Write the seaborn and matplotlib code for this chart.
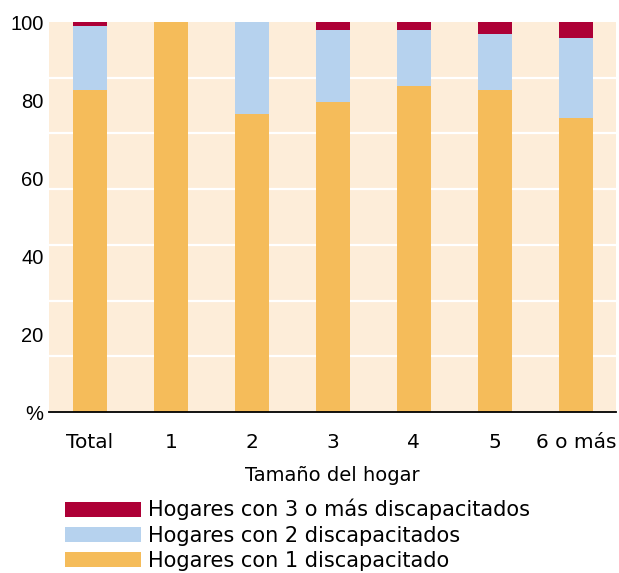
import numpy as np
import pandas as pd
import matplotlib
matplotlib.use("Agg")
import matplotlib.pyplot as plt
import matplotlib.patches as mpatches
from matplotlib.ticker import FixedLocator
import seaborn as sns

# Daten (in %)
categorias = ["Total", "1", "2", "3", "4", "5", "6 o más"]
con_1 = [82.6, 100.0, 76.4, 79.5, 83.6, 82.6, 75.4]
con_2 = [16.4, 0.0, 23.6, 18.4, 14.3, 14.3, 20.5]
con_3_mas = [1.0, 0.0, 0.0, 2.1, 2.1, 3.1, 4.1]
yticks = [0, 20, 40, 60, 80, 100]
ytick_labels = ["%", "20", "40", "60", "80", "100"]

leyenda = ["Hogares con 3 o más discapacitados",
           "Hogares con 2 discapacitados",
           "Hogares con 1 discapacitado"]

c_rojo = "#AD0036"
c_azul = "#B6D2EE"
c_naranja = "#F5BC5A"
c_fondo = "#FDEDD9"

df = pd.DataFrame({"cat": categorias, "uno": con_1, "dos": con_2, "tres": con_3_mas})
df["h2"] = df["uno"] + df["dos"]
df["h3"] = df["h2"] + df["tres"]

sns.set_theme(style="white")
plt.rcParams["font.family"] = ["DejaVu Sans"]

fig = plt.figure(figsize=(6.19, 5.73), dpi=100)
ax = fig.add_axes([49 / 619, 1 - 412 / 573, (616 - 49) / 619, (412 - 22) / 573])
ax.set_facecolor(c_fondo)

# gestapelte Balken: kumulierte Höhen übereinander zeichnen
for col, c in [("h3", c_rojo), ("h2", c_azul), ("uno", c_naranja)]:
    sns.barplot(data=df, x="cat", y=col, color=c, width=0.41, saturation=1,
                linewidth=0, edgecolor="none", ax=ax)

ax.set_xlim(-0.505, 6.495)
ax.set_ylim(0, 100)

ax.yaxis.set_major_locator(FixedLocator(yticks))
ax.set_yticklabels(ytick_labels, fontfamily="Liberation Sans")
ax.yaxis.set_minor_locator(FixedLocator([100 / 7 * k for k in range(1, 7)]))
ax.grid(which="minor", axis="y", color="white", linewidth=1.6)
ax.set_axisbelow(True)

ax.tick_params(axis="y", which="both", length=0, pad=4, labelsize=14.5, colors="black")
ax.tick_params(axis="x", length=0, pad=15, labelsize=14.5, colors="black")

for s in ["top", "right", "left"]:
    ax.spines[s].set_visible(False)
ax.spines["bottom"].set_color("black")
ax.spines["bottom"].set_linewidth(1.3)

ax.set_xlabel("Tamaño del hogar", fontsize=14, labelpad=10, color="black")
ax.set_ylabel("")

handles = [mpatches.Patch(color=c, linewidth=0) for c in [c_rojo, c_azul, c_naranja]]
fig.legend(handles, leyenda, loc="upper left", bbox_to_anchor=(65 / 619, 1 - 499 / 573),
           frameon=False, fontsize=15, labelcolor="black", handlelength=3.65,
           handleheight=0.72, handletextpad=0.34, labelspacing=0.25,
           borderpad=0, borderaxespad=0)

fig.savefig("out.png", dpi=100)
